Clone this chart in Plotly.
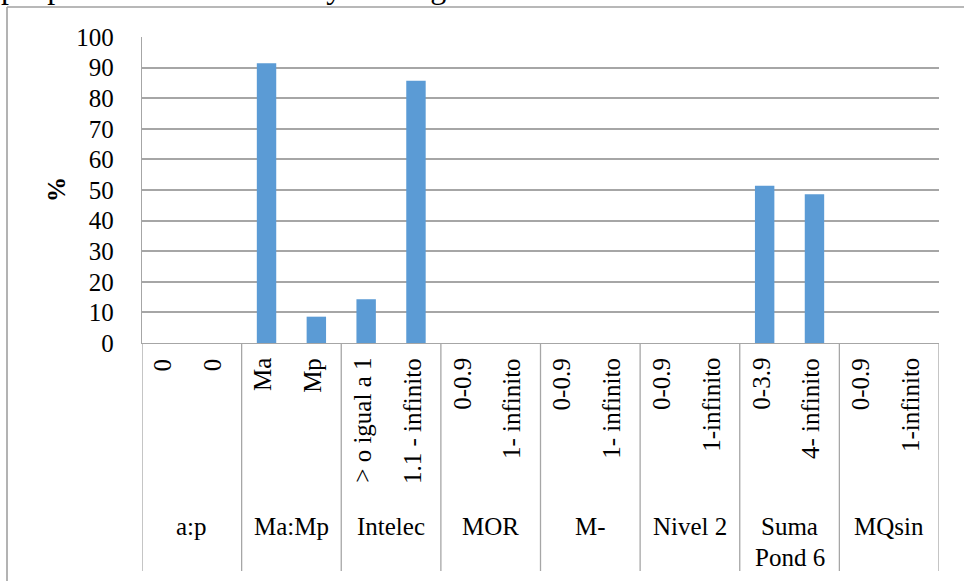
import plotly.graph_objects as go

# ---- data -------------------------------------------------------------
groups = ["a:p", "Ma:Mp", "Intelec", "MOR", "M-", "Nivel 2", "Suma Pond 6", "MQsin"]
group_lines = [["a:p"], ["Ma:Mp"], ["Intelec"], ["MOR"], ["M-"], ["Nivel 2"],
               ["Suma", "Pond 6"], ["MQsin"]]
sub_labels = [
    "0", "0",
    "Ma", "Mp",
    "> o igual a 1", "1.1 - infinito",
    "0-0.9", "1- infinito",
    "0-0.9", "1- infinito",
    "0-0.9", "1-infinito",
    "0-3.9", "4- infinito",
    "0-0.9", "1-infinito",
]
values = [0, 0, 91.4, 8.6, 14.3, 85.7, 0, 0, 0, 0, 0, 0, 51.4, 48.6, 0, 0]
y_ticks = list(range(0, 101, 10))

# ---- geometry helpers (pixel -> paper) ---------------------------------
W, H = 964, 581
L, R, T, B = 142, 939, 37, 343


def fx(p):
    return (p - L) / (R - L)


def fy(p):
    return (B - p) / (B - T)


FONT = "Liberation Serif"
GRID = "#a6a6a6"
BAR = "#5B9BD5"

x_pos = list(range(len(sub_labels)))
per_group = len(sub_labels) // len(groups)

fig = go.Figure(
    go.Bar(
        x=x_pos,
        y=values,
        marker=dict(color=BAR, line=dict(width=0)),
        width=0.39,
        hoverinfo="y",
    )
)

shapes = []
annotations = []

# group dividers running down through the label area
for k in range(len(groups) + 1):
    shapes.append(dict(
        type="line", xref="x", yref="paper",
        x0=k * per_group - 0.5, x1=k * per_group - 0.5,
        y0=0, y1=fy(571),
        line=dict(color=GRID, width=1.3),
    ))

# rotated sub-category labels
for i, lab in enumerate(sub_labels):
    annotations.append(dict(
        x=i - 0.08, xref="x", y=fy(356), yref="paper",
        text=lab, textangle=-90, showarrow=False,
        xanchor="center", yanchor="top",
        font=dict(family=FONT, size=25, color="black"),
    ))

# group labels
for g, lines in enumerate(group_lines):
    center = g * per_group + (per_group - 1) / 2
    for j, line in enumerate(lines):
        annotations.append(dict(
            x=center, xref="x", y=fy(526 + 31 * j), yref="paper",
            text=line, showarrow=False,
            xanchor="center", yanchor="middle",
            font=dict(family=FONT, size=25, color="black"),
        ))

# axis title
annotations.append(dict(
    x=fx(56), xref="paper", y=0.5, yref="paper",
    text="<b>%</b>", textangle=-90, showarrow=False,
    xanchor="center", yanchor="middle",
    font=dict(family=FONT, size=25, color="black"),
))

# surrounding text line from the page above the chart frame
annotations.append(dict(
    x=fx(0), xref="paper", y=fy(6), yref="paper",
    text="people who have a healthy making decisions.", showarrow=False,
    xanchor="left", yanchor="bottom", borderpad=0,
    font=dict(family=FONT, size=32, color="black"),
))

# chart frame (top and left edges)
shapes.append(dict(type="line", xref="paper", yref="paper",
                   x0=fx(7), x1=fx(W + 5), y0=fy(7), y1=fy(7),
                   line=dict(color="#a0a0a0", width=1.6)))
shapes.append(dict(type="line", xref="paper", yref="paper",
                   x0=fx(7), x1=fx(7), y0=fy(7), y1=fy(H + 5),
                   line=dict(color="#a0a0a0", width=1.6)))

fig.update_layout(
    width=W, height=H,
    margin=dict(l=L, r=W - R, t=T, b=H - B, pad=0),
    paper_bgcolor="white", plot_bgcolor="white",
    showlegend=False,
    bargap=0.61,
    font=dict(family=FONT, size=25, color="black"),
    xaxis=dict(
        range=[-0.5, len(sub_labels) - 0.5],
        showticklabels=False, ticks="", showgrid=False, zeroline=False,
        showline=True, linecolor=GRID, linewidth=1.3, fixedrange=True,
    ),
    yaxis=dict(
        range=[0, 100], tickvals=y_ticks,
        ticktext=[str(v) for v in y_ticks],
        showgrid=True, gridcolor=GRID, gridwidth=1.5,
        zeroline=False, showline=True, linecolor=GRID, linewidth=1.3,
        ticks="", ticklabelstandoff=22,
        tickfont=dict(family=FONT, size=25, color="black"),
        fixedrange=True,
    ),
    shapes=shapes,
    annotations=annotations,
)

fig.write_html("out.html")
